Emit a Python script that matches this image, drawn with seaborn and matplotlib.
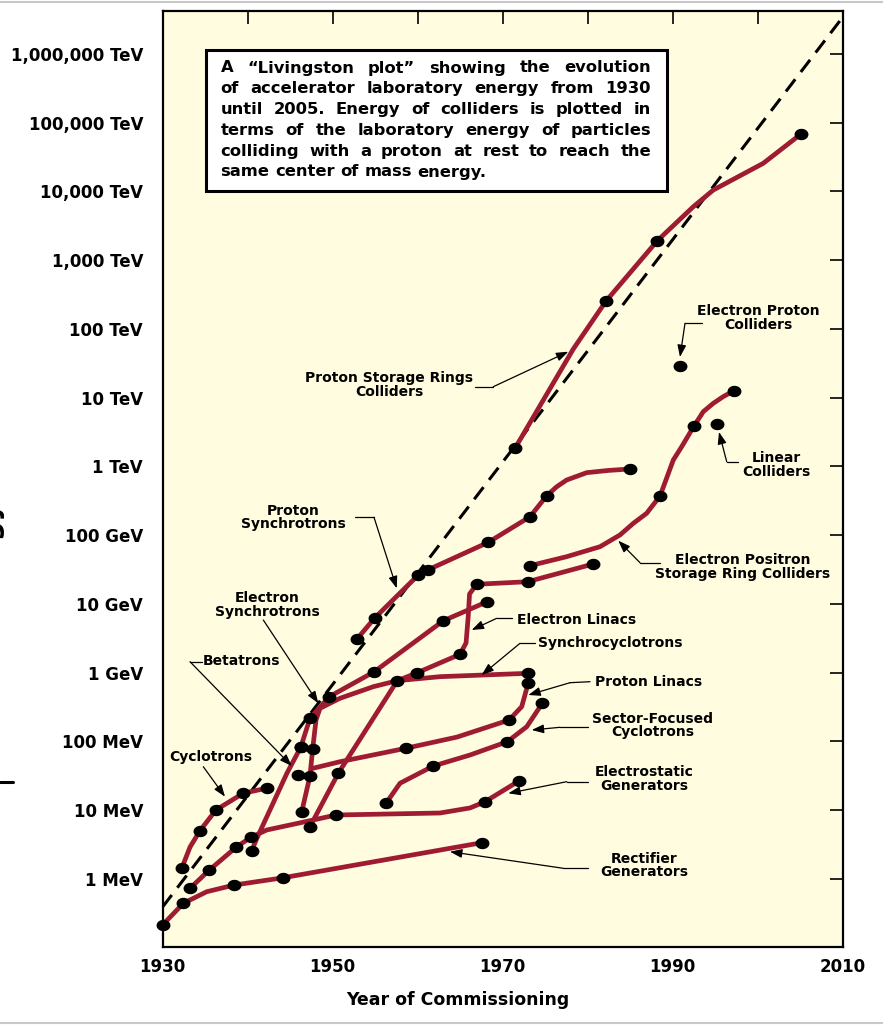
import numpy as np
import pandas as pd
import matplotlib
matplotlib.use("Agg")
import matplotlib.pyplot as plt
import seaborn as sns
from matplotlib.path import Path
from matplotlib.patches import Rectangle
from matplotlib.lines import Line2D
from matplotlib.ticker import NullLocator

# ---------------- data (year, laboratory energy in MeV) ----------------
rect_year = [1930.0, 1932.45, 1935.2, 1938.45, 1944.14, 1967.55]
rect_mev = [0.214, 0.443, 0.653, 0.818, 1.04, 3.37]
rect_dot = [1, 1, 0, 1, 1, 1]

estat_year = [1933.24, 1935.51, 1938.65, 1940.38, 1942.26, 1947.35, 1950.41, 1962.65, 1966.18, 1967.94, 1971.98]
estat_mev = [0.733, 1.35, 2.89, 4.04, 5.16, 7.05, 8.53, 9.12, 10.8, 13.3, 26.9]
estat_dot = [1, 1, 1, 1, 0, 0, 1, 0, 0, 1, 1]

cyclo_year = [1932.26, 1933.24, 1934.41, 1936.29, 1939.51, 1942.26]
cyclo_mev = [1.43, 2.92, 5.04, 10.1, 17.7, 20.9]
cyclo_dot = [1, 0, 1, 1, 1, 1]

betatron_year = [1940.49, 1941.12, 1944.65, 1946.26]
betatron_mev = [2.58, 3.95, 34.8, 82.4]
betatron_dot = [1, 0, 0, 1]

esync_year = [1946.26, 1947.35, 1949.62, 1954.92, 1963.04, 1968.21]
esync_mev = [82.4, 217, 448, 1036, 5710, 10800]
esync_dot = [1, 1, 1, 1, 1, 1]

synchrocyc_year = [1946.38, 1947.35, 1947.67, 1948.06, 1948.53, 1950.88, 1954.8, 1957.62, 1962.65, 1973.04]
synchrocyc_mev = [9.53, 31.5, 78.6, 205, 304, 425, 627, 766, 877, 982]
synchrocyc_dot = [1, 1, 1, 0, 0, 0, 0, 1, 0, 1]

elinac_year = [1947.35, 1950.68, 1957.62, 1959.98, 1965.0, 1965.71, 1965.98, 1966.12, 1966.96, 1972.96, 1980.68]
elinac_mev = [5.77, 34.5, 766, 1002, 1854, 2710, 6920, 13970, 19360, 21090, 38200]
elinac_dot = [1, 1, 0, 1, 1, 0, 0, 0, 1, 1, 1]

plinac_year = [1947.67, 1950.88, 1958.61, 1964.65, 1970.76, 1972.26, 1973.04]
plinac_mev = [40.7, 50.8, 79.6, 116, 205, 321, 717]
plinac_dot = [0, 0, 1, 0, 1, 0, 1]

sector_year = [1956.29, 1957.94, 1961.86, 1966.18, 1970.56, 1972.85, 1974.68]
sector_mev = [12.6, 24.7, 44.0, 63.6, 99.3, 164, 359]
sector_dot = [1, 0, 1, 0, 1, 0, 1]

psync_year = [1952.85, 1955.0, 1960.09, 1961.2, 1968.33, 1973.24, 1975.2, 1976.38,
              1977.55, 1979.9, 1982.41, 1985.0]
psync_mev = [3067, 6320, 26400, 31260, 78900, 186000, 376000, 508000,
             636000, 813000, 875000, 920000]
psync_dot = [1, 1, 1, 1, 1, 1, 1, 0, 0, 0, 0, 1]

pring_year = [1971.47, 1978.33, 1982.18, 1988.21, 1992.45, 1994.8, 2000.68, 2005.12]
pring_mev = [1.84e6, 5.12e7, 2.55e8, 1.92e9, 6.01e9, 1.05e10, 2.57e10, 6.86e10]
pring_dot = [1, 0, 1, 1, 0, 0, 0, 1]

epem_year = [1973.24, 1977.55, 1981.47, 1983.82, 1985.39, 1986.96, 1988.53, 1989.3,
             1990.09, 1991.08, 1992.53, 1993.62, 1994.8, 1995.98, 1997.27]
epem_mev = [36100, 48800, 68100, 100900, 149000, 208600, 372000, 673000,
            1.24e6, 1.94e6, 3.88e6, 6.27e6, 8.30e6, 1.04e7, 1.27e7]
epem_dot = [1, 0, 0, 0, 0, 0, 1, 0, 0, 0, 1, 0, 0, 0, 1]

# isolated machines: extra betatron, linear collider, electron-proton collider
lone_year = [1945.98, 1995.27, 1990.88]
lone_mev = [32.6, 4.11e6, 2.90e7]

# dashed trend line
trend_year = [1930, 2010]
trend_mev = [0.39, 3.4e12]

ytick_mev = [1e0, 1e1, 1e2, 1e3, 1e4, 1e5, 1e6, 1e7, 1e8, 1e9, 1e10, 1e11, 1e12]
ytick_labels = ["1 MeV", "10 MeV", "100 MeV", "1 GeV", "10 GeV", "100 GeV", "1 TeV",
                "10 TeV", "100 TeV", "1,000 TeV", "10,000 TeV", "100,000 TeV", "1,000,000 TeV"]
xtick_years = [1930, 1940, 1950, 1960, 1970, 1980, 1990, 2000, 2010]
xtick_labels = ["1930", "", "1950", "", "1970", "", "1990", "", "2010"]

box_lines = [
    "A \u201cLivingston plot\u201d showing the evolution",
    "of accelerator laboratory energy from 1930",
    "until 2005. Energy of colliders is plotted in",
    "terms of the laboratory energy of particles",
    "colliding with a proton at rest to reach the",
    "same center of mass energy.",
]

curves = {
    "Rectifier Generators": (rect_year, rect_mev, rect_dot),
    "Electrostatic Generators": (estat_year, estat_mev, estat_dot),
    "Cyclotrons": (cyclo_year, cyclo_mev, cyclo_dot),
    "Betatrons": (betatron_year, betatron_mev, betatron_dot),
    "Electron Synchrotrons": (esync_year, esync_mev, esync_dot),
    "Synchrocyclotrons": (synchrocyc_year, synchrocyc_mev, synchrocyc_dot),
    "Electron Linacs": (elinac_year, elinac_mev, elinac_dot),
    "Proton Linacs": (plinac_year, plinac_mev, plinac_dot),
    "Sector-Focused Cyclotrons": (sector_year, sector_mev, sector_dot),
    "Proton Synchrotrons": (psync_year, psync_mev, psync_dot),
    "Proton Storage Rings": (pring_year, pring_mev, pring_dot),
    "Electron Positron Colliders": (epem_year, epem_mev, epem_dot),
}

rows = []
for name, (ys, es, ds) in curves.items():
    for i, (y, e, d) in enumerate(zip(ys, es, ds)):
        rows.append(dict(series=name, order=i, year=y, mev=e, has_dot=d))
df = pd.DataFrame(rows)
dots = pd.concat([df.loc[df["has_dot"] == 1, ["year", "mev"]],
                  pd.DataFrame(dict(year=lone_year, mev=lone_mev))], ignore_index=True)
trend = pd.DataFrame(dict(year=trend_year, mev=trend_mev))

# ---------------- styling ----------------
sns.set_theme(style="white")
plt.rcParams["font.family"] = ["DejaVu Sans"]
plt.rcParams["font.weight"] = "bold"
plt.rcParams["axes.labelweight"] = "bold"

RED = "#9E1B32"
BG = "#FFFCDF"
W, H = 883, 1027

fig = plt.figure(figsize=(W / 100, H / 100), dpi=100)
fig.patch.set_facecolor("white")
ax = fig.add_axes([162.5 / W, 80 / H, 680 / W, 936 / H])
ax.set_facecolor(BG)
ax.set_yscale("log")


def P(px, py):
    """reference-pixel layout position -> axes fraction"""
    return ((px - 162.5) / 680.0, (947.0 - py) / 936.0)


# trend line
sns.lineplot(data=trend, x="year", y="mev", ax=ax, color="black", lw=2.2,
             linestyle=(0, (5, 3)), legend=False, zorder=2)
# machine curves
sns.lineplot(data=df, x="year", y="mev", units="series", estimator=None, sort=False,
             ax=ax, color=RED, lw=3.4, legend=False, zorder=3,
             solid_joinstyle="round", solid_capstyle="round")
# dots
theta = np.linspace(0, 2 * np.pi, 64)
ellipse = Path(np.column_stack([1.22 * np.cos(theta), np.sin(theta)]))
sns.scatterplot(data=dots, x="year", y="mev", ax=ax, marker=ellipse, s=100,
                color="black", edgecolor="black", linewidth=0, zorder=5,
                clip_on=False, legend=False)

ax.set_xlim(1930, 2010)
ax.set_ylim(10 ** -0.989, 10 ** 12.625)
ax.set_yticks(ytick_mev)
ax.set_yticklabels(ytick_labels)
ax.yaxis.set_minor_locator(NullLocator())
ax.set_xticks(xtick_years)
ax.set_xticklabels(xtick_labels)
ax.tick_params(axis="both", which="major", direction="in", length=9.5, width=1.2,
               color="black", top=True, right=True, labelsize=12, labelcolor="black")
ax.tick_params(axis="y", pad=14)
ax.tick_params(axis="x", pad=8)
for sp in ax.spines.values():
    sp.set_visible(True)
    sp.set_color("black")
    sp.set_linewidth(1.6)

ax.set_ylabel("")
ax.set_xlabel("Year of Commissioning", fontsize=12.5, fontweight="bold", color="black")
ax.xaxis.set_label_coords(*P(458, 1000))
ax.xaxis.label.set_va("center")

# y label, mostly cropped away at the left edge as in the reference
fig.text(5 / W, 1 - 622 / H, "Particle Energy", rotation=90, ha="right", va="center",
         fontsize=20, fontweight="bold", color="black")
fig.add_artist(Line2D([0, 13 / W], [1 - 781.5 / H] * 2, color="black", lw=2.2))

# ---------------- annotations ----------------
def label(text, cx, cy, fs=10):
    ax.text(*P(cx, cy), text, transform=ax.transAxes, ha="center", va="center",
            fontsize=fs, fontweight="bold", linespacing=0.95, color="black", zorder=6)


def leader(points, tip):
    if len(points) > 1:
        xs, ys = zip(*[P(*p) for p in points])
        ax.plot(xs, ys, transform=ax.transAxes, color="black", lw=0.9, zorder=6)
    ax.annotate("", xy=P(*tip), xytext=P(*points[-1]), xycoords="axes fraction",
                textcoords="axes fraction", zorder=6,
                arrowprops=dict(arrowstyle="-|>,head_length=0.6,head_width=0.22",
                                color="black", lw=0.9, shrinkA=0, shrinkB=0))


label("Cyclotrons", 211, 757)
leader([(203.3, 766.7)], (225, 796.7))
label("Betatrons", 241, 661)
leader([(202, 661.7), (190, 661.7)], (291.7, 766))
label("Electron\nSynchrotrons", 267, 605)
leader([(263.3, 620)], (318.3, 703.3))
label("Proton\nSynchrotrons", 293.3, 517.5)
leader([(355, 517.3), (374, 517.3)], (396.7, 588.3))
label("Proton Storage Rings\nColliders", 389, 385)
leader([(475, 386.7), (493.3, 386.7)], (568.3, 351.7))
label("Electron Proton\nColliders", 758.3, 318)
leader([(701.7, 323.3), (685, 323.3)], (680, 357))
label("Linear\nColliders", 776, 465)
leader([(738.3, 461.7), (726.7, 461.7)], (719, 432))
label("Electron Positron\nStorage Ring Colliders", 742.3, 567)
leader([(660, 562.7), (640, 562.7)], (618.3, 540.7))
label("Electron Linacs", 576.7, 620)
leader([(511.7, 618.3), (496.7, 618.3)], (471.7, 630))
label("Synchrocyclotrons", 610, 643)
leader([(535, 643.3), (520, 643.3)], (481.7, 675))
label("Proton Linacs", 648.3, 682)
leader([(590, 681.7), (570, 682.7)], (528.3, 695))
label("Sector-Focused\nCyclotrons", 652.7, 725.7)
leader([(588.3, 727.3), (560, 727.3)], (531.7, 730))
label("Electrostatic\nGenerators", 644.3, 779)
leader([(588.3, 781.7), (566.7, 781.7)], (508.3, 793.3))
label("Rectifier\nGenerators", 644.3, 865.7)
leader([(588.3, 868.3), (563.3, 868.3)], (450, 851.7))

# ---------------- text box (justified) ----------------
x0, y0 = P(206, 191)
x1, y1 = P(667, 50)
ax.add_patch(Rectangle((x0, y0), x1 - x0, y1 - y0, transform=ax.transAxes,
                       facecolor="white", edgecolor="black", lw=2.2, zorder=7))

fig.canvas.draw()
renderer = fig.canvas.get_renderer()
left_px, right_px = 220.5, 651.0
BOX_FS = 11.8
space_t = ax.text(0, 0, "a a", fontsize=BOX_FS, fontweight="bold")
aa_t = ax.text(0, 0, "aa", fontsize=BOX_FS, fontweight="bold")
space_w = space_t.get_window_extent(renderer).width - aa_t.get_window_extent(renderer).width
space_t.remove()
aa_t.remove()
for i, line in enumerate(box_lines):
    base = 72.5 + 20.8 * i
    words = line.split(" ")
    texts = [ax.text(0, 0, w, transform=ax.transAxes, fontsize=BOX_FS, fontweight="bold",
                     ha="left", va="baseline", color="black", zorder=8) for w in words]
    widths = [t.get_window_extent(renderer).width for t in texts]
    if i < len(box_lines) - 1 and len(words) > 1:
        gap = (right_px - left_px - sum(widths)) / (len(words) - 1)
    else:
        gap = space_w
    x = left_px
    for t, w in zip(texts, widths):
        t.set_position(P(x, base))
        x += w + gap

# light grey frame lines of the original image
fig.add_artist(Line2D([0, 1], [1 - 1.5 / H] * 2, color="#C8C8C8", lw=1.5))
fig.add_artist(Line2D([0, 1], [4 / H] * 2, color="#C8C8C8", lw=1.5))

fig.savefig("out.png", dpi=100)
